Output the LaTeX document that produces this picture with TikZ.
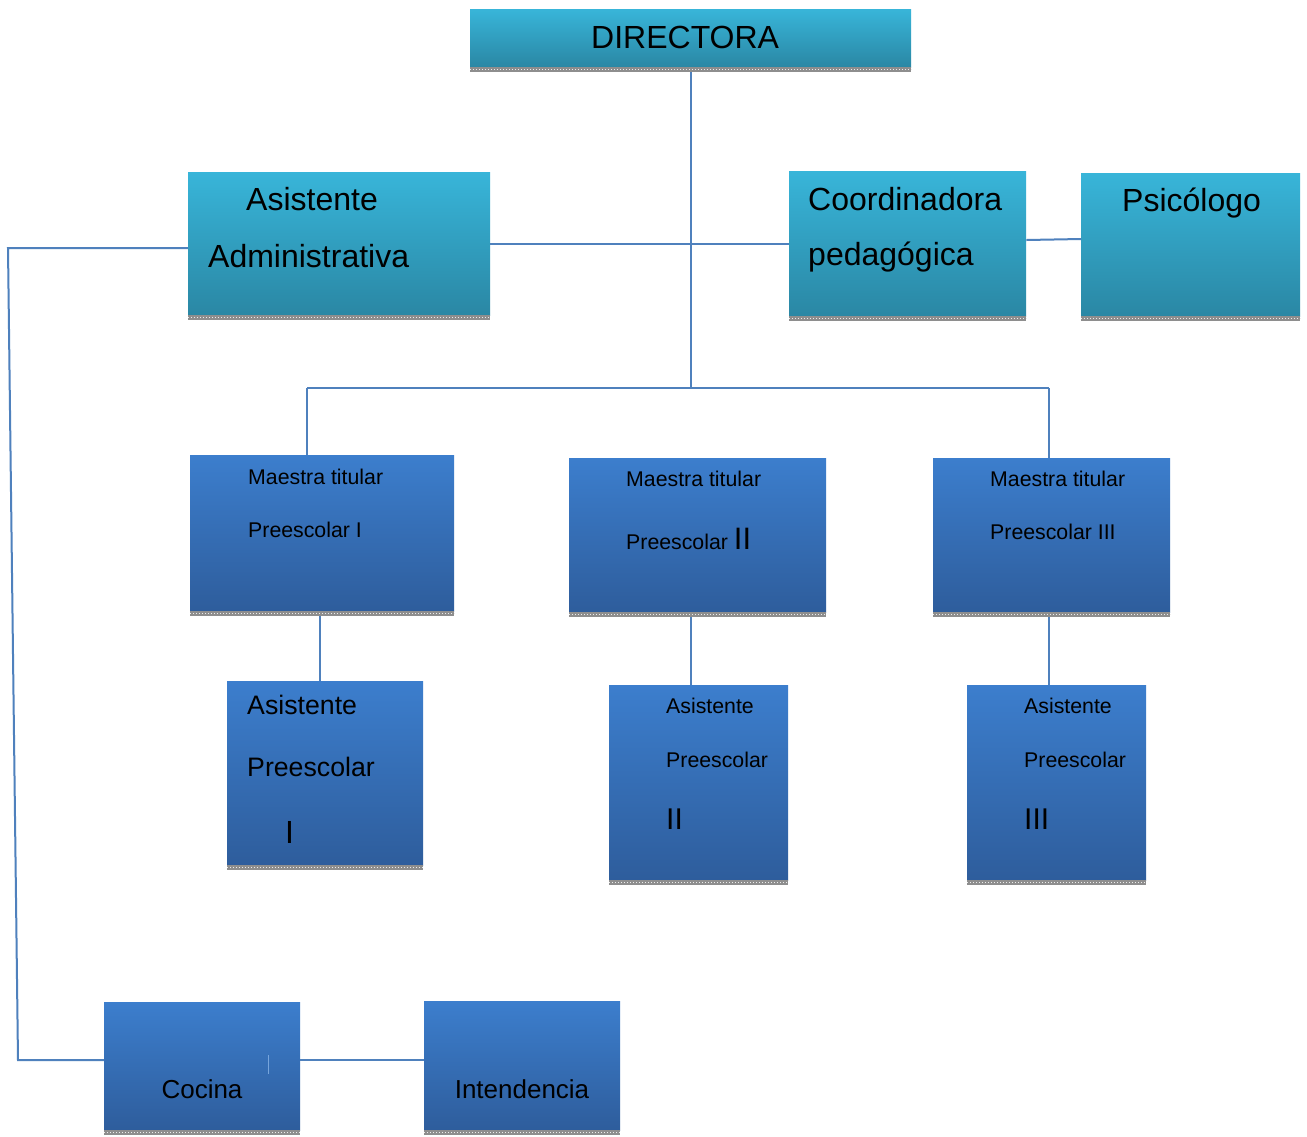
\documentclass[tikz,border=0pt]{standalone}
\usepackage{fontspec}
\setmainfont{Liberation Sans}
\definecolor{tealtop}{HTML}{38B5D9}
\definecolor{tealbot}{HTML}{2A87A4}
\definecolor{bluetop}{HTML}{3C7ECD}
\definecolor{bluebot}{HTML}{2E5D9C}
\definecolor{linec}{HTML}{4F81BD}
\definecolor{bandc}{HTML}{8E8E8E}
\newcommand{\fs}[1]{\fontsize{#1}{#1}\selectfont}
\tikzset{
  tealbox/.style={rectangle, inner sep=0pt, anchor=north west, draw=none, top color=tealtop, bottom color=tealbot},
  bluebox/.style={rectangle, inner sep=0pt, anchor=north west, draw=none, top color=bluetop, bottom color=bluebot},
  lbl/.style={anchor=base west, inner sep=0pt, text=black},
  clbl/.style={anchor=base, inner sep=0pt, text=black},
  conn/.style={draw=linec, line width=2pt},
  bandfill/.style={fill=bandc},
  banddots/.style={draw=white!85!gray, line width=1pt, dash pattern=on 1pt off 2pt},
}
\newcommand{\band}[1]{%
  \fill[bandfill] (#1.south west) rectangle ([yshift=-5pt]#1.south east);
  \draw[banddots] ([yshift=-2.5pt]#1.south west) -- ([yshift=-2.5pt]#1.south east);
}
\begin{document}
\begin{tikzpicture}[x=1pt,y=-1pt]
\useasboundingbox[fill=white] (0,0) rectangle (1307,1136);

% boxes
\node[tealbox, minimum width=441pt, minimum height=58pt] (dir) at (470,9) {};
\node[tealbox, minimum width=302pt, minimum height=143pt] (asis) at (188,172) {};
\node[tealbox, minimum width=237pt, minimum height=145pt] (coord) at (789,171) {};
\node[tealbox, minimum width=219pt, minimum height=143pt] (psic) at (1081,173) {};
\node[bluebox, minimum width=264pt, minimum height=156pt] (m1) at (190,455) {};
\node[bluebox, minimum width=257pt, minimum height=154pt] (m2) at (569,458) {};
\node[bluebox, minimum width=237pt, minimum height=154pt] (m3) at (933,458) {};
\node[bluebox, minimum width=196pt, minimum height=184pt] (a1) at (227,681) {};
\node[bluebox, minimum width=179pt, minimum height=195pt] (a2) at (609,685) {};
\node[bluebox, minimum width=179pt, minimum height=195pt] (a3) at (967,685) {};
\node[bluebox, minimum width=196pt, minimum height=128pt] (coc) at (104,1002) {};
\node[bluebox, minimum width=196pt, minimum height=129pt] (int) at (424,1001) {};

\band{dir}\band{asis}\band{coord}\band{psic}
\band{m1}\band{m2}\band{m3}
\band{a1}\band{a2}\band{a3}
\band{coc}\band{int}

% faint mark in Cocina
\draw[bluetop!70!white, line width=0.8pt] (268,1055) -- (268,1074);

% labels
\node[lbl] (tdir) at (591,48) {\fs{32}DIRECTORA};
\node[lbl] (tasis1) at (246,210) {\fs{32}Asistente};
\node[lbl] (tasis2) at (208,267) {\fs{32}Administrativa};
\node[lbl] (tcoord1) at (808,210) {\fs{32}Coordinadora};
\node[lbl] (tcoord2) at (808,265) {\fs{32}pedagógica};
\node[lbl] (tpsic) at (1122,211) {\fs{32}Psicólogo};

\node[lbl] (tm1a) at (248,484) {\fs{21.3}Maestra titular};
\node[lbl] (tm1b) at (248,537) {\fs{21.3}Preescolar I};
\node[lbl] (tm2a) at (626,486) {\fs{21.3}Maestra titular};
\node[lbl] (tm2b) at (626,549) {\fs{21.3}Preescolar \fs{31}II};
\node[lbl] (tm3a) at (990,486) {\fs{21.3}Maestra titular};
\node[lbl] (tm3b) at (990,539) {\fs{21.3}Preescolar III};

\node[lbl] (ta1a) at (247,714) {\fs{26.7}Asistente};
\node[lbl] (ta1b) at (247,776) {\fs{26.7}Preescolar};
\node[lbl] (ta1c) at (285,843) {\fs{32}I};
\node[lbl] (ta2a) at (666,713) {\fs{21.3}Asistente};
\node[lbl] (ta2b) at (666,767) {\fs{21.3}Preescolar};
\node[lbl] (ta2c) at (666,829) {\fs{30}II};
\node[lbl] (ta3a) at (1024,713) {\fs{21.3}Asistente};
\node[lbl] (ta3b) at (1024,767) {\fs{21.3}Preescolar};
\node[lbl] (ta3c) at (1024,829) {\fs{30}III};

\node[clbl] (tcoc) at (202,1098) {\fs{26}Cocina};
\node[clbl] (tint) at (522,1098) {\fs{26}Intendencia};

% connectors
\coordinate (j) at (691,388);
\coordinate (jl) at (307,388);
\coordinate (jr) at (1049,388);
\coordinate (x1) at (320,0);
\coordinate (x2) at (691,0);
\coordinate (x3) at (1049,0);
\coordinate (lt) at (8,248);
\coordinate (lb) at (18,1060);

\draw[conn] ([yshift=-5pt]dir.south -| j) -- (j);
\draw[conn] (asis.east) -- (coord.west);
\draw[conn] (coord.east |- 0,240) -- (psic.west |- 0,239);
\draw[conn] (jl) -- (jr);
\draw[conn] (jl) -- (m1.north -| jl);
\draw[conn] (jr) -- (m3.north -| jr);
\draw[conn] ([yshift=-5pt]m1.south -| x1) -- (a1.north -| x1);
\draw[conn] ([yshift=-5pt]m2.south -| x2) -- (a2.north -| x2);
\draw[conn] ([yshift=-5pt]m3.south -| x3) -- (a3.north -| x3);
\draw[conn] (asis.west |- lt) -- (lt) -- (lb) -- (coc.west |- lb);
\draw[conn] (coc.east |- lb) -- (int.west |- lb);
\end{tikzpicture}
\end{document}
